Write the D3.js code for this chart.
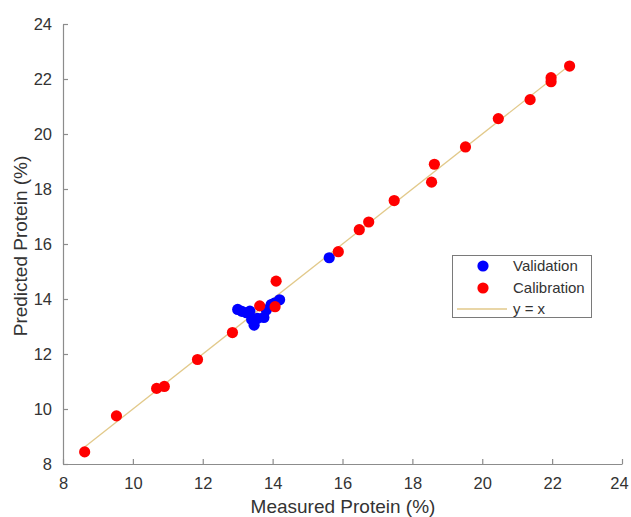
<!DOCTYPE html>
<html><head><meta charset="utf-8">
<script src="https://cdn.jsdelivr.net/npm/d3@7"></script>
<style>body{margin:0;background:#fff}svg{display:block}text{font-family:Arial,"Liberation Sans",sans-serif}</style>
</head><body>
<script>
const validationX = [13.0, 13.12, 13.25, 13.35, 13.4, 13.47, 13.57, 13.75, 13.82, 13.96, 14.05, 14.2, 15.62];
const validationY = [13.62, 13.55, 13.5, 13.56, 13.25, 13.05, 13.3, 13.33, 13.6, 13.8, 13.85, 13.97, 15.5];
const calibrationX = [8.62, 9.53, 10.68, 10.9, 11.85, 12.85, 13.63, 14.07, 14.1, 15.88, 16.48, 16.75, 17.48, 18.55, 18.63, 19.52, 20.46, 21.37, 21.97, 21.97, 22.5];
const calibrationY = [8.44, 9.75, 10.75, 10.82, 11.8, 12.78, 13.75, 13.72, 14.65, 15.72, 16.52, 16.8, 17.58, 18.25, 18.9, 19.53, 20.56, 21.25, 22.05, 21.9, 22.47];
const ticks = [8, 10, 12, 14, 16, 18, 20, 22, 24];
const lineRange = [8.62, 22.5];

const W = 631, H = 517;
const svg = d3.select("body").append("svg").attr("width", W).attr("height", H);
const x = d3.scaleLinear().domain([8, 24]).range([63, 622]);
const y = d3.scaleLinear().domain([8, 24]).range([464, 24]);
const axisColor = "#8c8c8c", textColor = "#333";

const xAxis = svg.append("g").attr("transform", "translate(0,464)")
  .call(d3.axisBottom(x).tickValues(ticks).tickSizeInner(-5).tickSizeOuter(0).tickPadding(11));
const yAxis = svg.append("g").attr("transform", "translate(63,0)")
  .call(d3.axisLeft(y).tickValues(ticks).tickSizeInner(-5).tickSizeOuter(0).tickPadding(11));
[xAxis, yAxis].forEach(g => {
  g.select(".domain").attr("stroke", axisColor).attr("stroke-width", 1.2);
  g.selectAll(".tick line").attr("stroke", axisColor).attr("stroke-width", 1.2);
  g.selectAll(".tick text").attr("fill", textColor).style("font-size", "16.5px");
});
xAxis.selectAll(".tick text").attr("dy", "0.85em");
xAxis.selectAll(".tick text").filter(d => d === 24).attr("dx", "-3px");

svg.append("text").attr("x", 343).attr("y", 513).attr("text-anchor", "middle")
  .attr("fill", textColor).style("font-size", "19px").text("Measured Protein (%)");
svg.append("text").attr("transform", "translate(27,246) rotate(-90)").attr("text-anchor", "middle")
  .attr("fill", textColor).style("font-size", "19px").text("Predicted Protein (%)");

svg.append("line").attr("x1", x(lineRange[0])).attr("y1", y(lineRange[0]))
  .attr("x2", x(lineRange[1])).attr("y2", y(lineRange[1]))
  .attr("stroke", "#e2c98a").attr("stroke-width", 1.3);

const r = 5.6;
svg.append("g").selectAll("circle").data(validationX.map((v, i) => [v, validationY[i]])).join("circle")
  .attr("cx", d => x(d[0])).attr("cy", d => y(d[1])).attr("r", r).attr("fill", "#0000ff");
svg.append("g").selectAll("circle").data(calibrationX.map((v, i) => [v, calibrationY[i]])).join("circle")
  .attr("cx", d => x(d[0])).attr("cy", d => y(d[1])).attr("r", r).attr("fill", "#ff0000");

// legend
const lg = svg.append("g");
lg.append("rect").attr("x", 452.5).attr("y", 255.5).attr("width", 139).attr("height", 62)
  .attr("fill", "#fff").attr("stroke", "#7a7a7a").attr("stroke-width", 1);
lg.append("circle").attr("cx", 483).attr("cy", 266).attr("r", r).attr("fill", "#0000ff");
lg.append("circle").attr("cx", 483).attr("cy", 288).attr("r", r).attr("fill", "#ff0000");
lg.append("line").attr("x1", 457).attr("x2", 507).attr("y1", 309).attr("y2", 309)
  .attr("stroke", "#e2c98a").attr("stroke-width", 1.3);
[["Validation", 266], ["Calibration", 288], ["y = x", 309]].forEach(([t, yy]) => {
  lg.append("text").attr("x", 513).attr("y", yy).attr("dy", "0.35em").attr("fill", textColor)
    .style("font-size", "15px").text(t);
});
</script>
</body></html>
